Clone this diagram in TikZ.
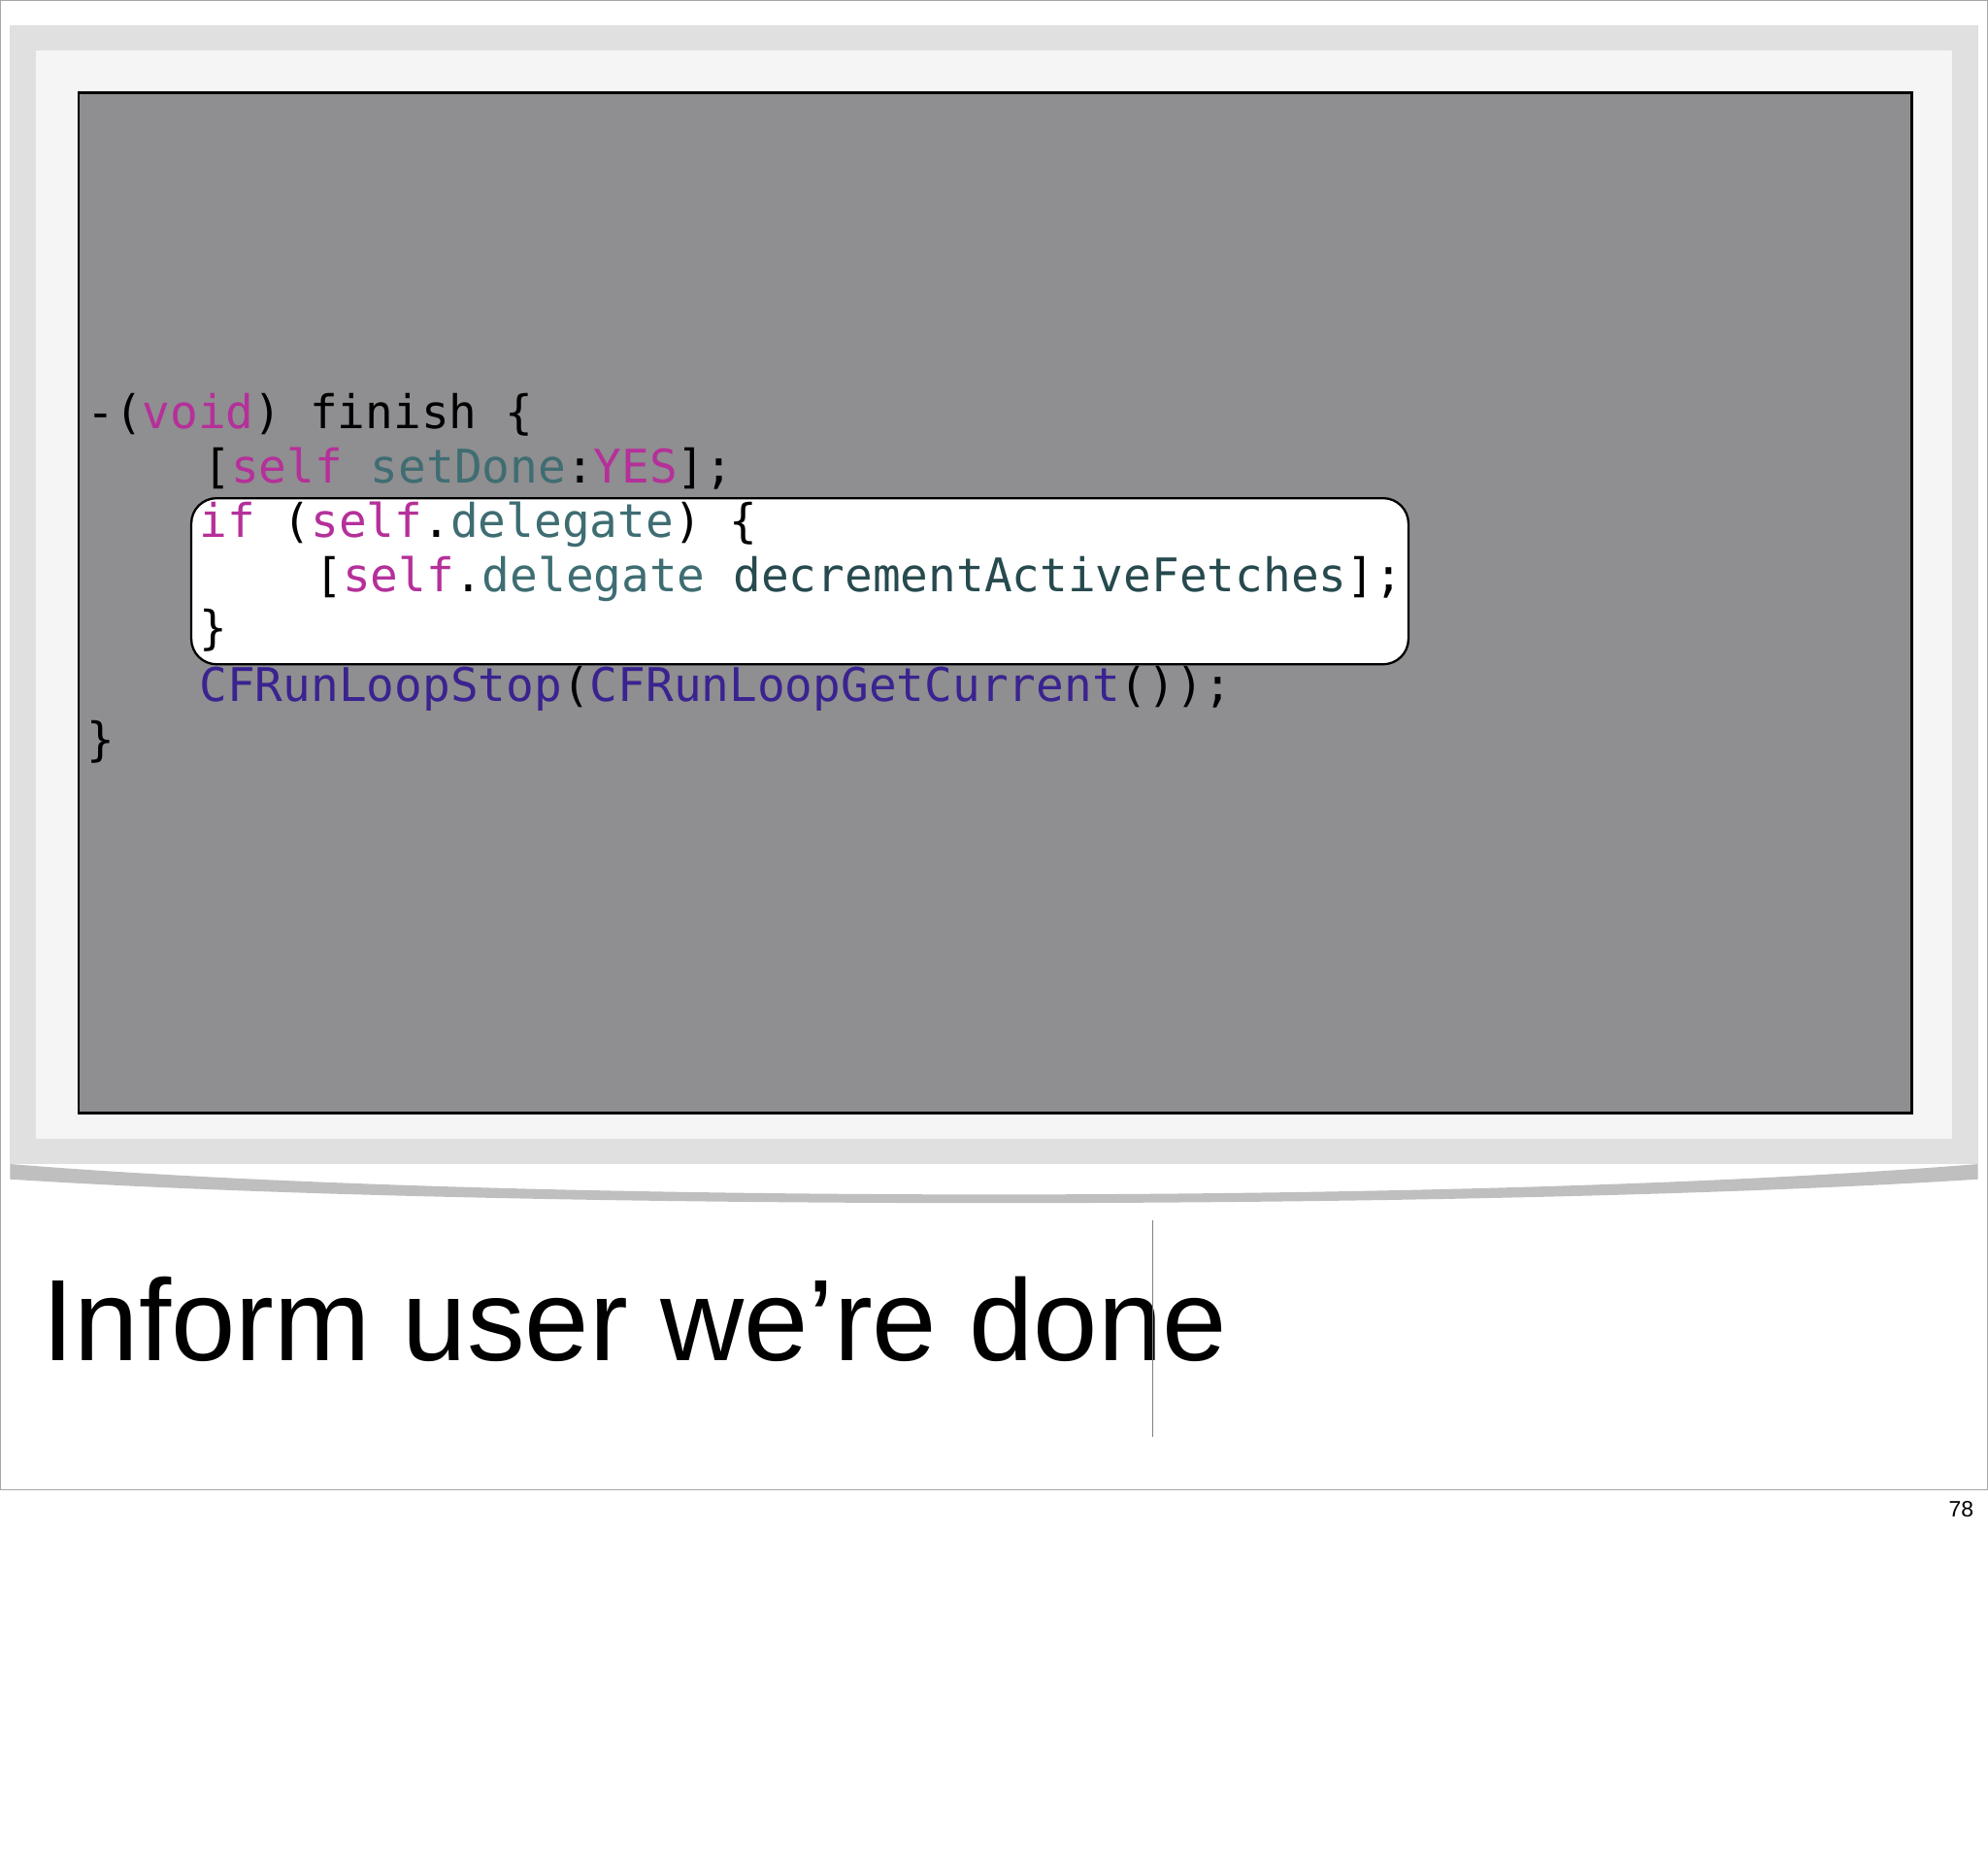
\documentclass[tikz,border=0pt]{standalone}
\usepackage{fontspec}
\setmainfont{Liberation Sans}
\newfontfamily\codefont{DejaVu Sans Mono}
\definecolor{kw}{HTML}{B5309A}
\definecolor{meth}{HTML}{3E6D72}
\definecolor{meth2}{HTML}{264A4E}
\definecolor{fn}{HTML}{3A2390}
\definecolor{boxgray}{HTML}{8F8E90}
\tikzset{code/.style={anchor=base west,inner sep=0pt,font=\codefont\fontsize{20.8}{24}\selectfont}}
\begin{document}
\begin{tikzpicture}[x=0.02cm,y=-0.02cm]
\useasboundingbox (0,0) rectangle (1568,1470);
\fill[white] (0,0) rectangle (1568,1470);
\draw[gray!70,line width=0.6pt] (0,0) rectangle (1568,1175);
\fill[black!25] (8,918) .. controls (400,950) and (1168,950) .. (1560,918) -- (1560,930) .. controls (1168,955) and (400,955) .. (8,930) -- cycle;
\fill[black!12] (8,20) rectangle (1560,918);
\fill[black!4] (28,40) rectangle (1540,898);
\node[draw=black,line width=1.2pt,fill=boxgray,minimum width=1446*0.02cm,minimum height=805*0.02cm,anchor=north west,inner sep=0pt] (box) at (61,72) {};
\node[draw=black,line width=1pt,fill=white,rounded corners=0.4cm,minimum width=960*0.02cm,minimum height=131*0.02cm,anchor=north west,inner sep=0pt] (hl) at (150,392) {};
\node[code] (l1) at (68,338) {-(\textcolor{kw}{void}) finish \{};
\node[code] (l2) at (160,381) {[\textcolor{kw}{self} \textcolor{meth}{setDone}:\textcolor{kw}{YES}];};
\node[code] (l3) at (157,424) {\textcolor{kw}{if} (\textcolor{kw}{self}.\textcolor{meth}{delegate}) \{};
\node[code] (l4) at (248,467) {[\textcolor{kw}{self}.\textcolor{meth}{delegate} \textcolor{meth2}{decrementActiveFetches}];};
\node[code] (l5) at (157,508) {\}};
\node[code] (l6) at (157,553) {\textcolor{fn}{CFRunLoopStop}(\textcolor{fn}{CFRunLoopGetCurrent}());};
\node[code] (l7) at (68,596) {\}};
\node[anchor=base west,inner sep=0pt,font=\fontsize{52}{60}\selectfont] (title) at (33,1073) {Inform user we're done};
\draw[gray,line width=0.6pt] (909,962) -- (909,1133);
\node[anchor=base east,inner sep=0pt,font=\fontsize{10}{12}\selectfont] (pg) at (1557,1196) {78};
\end{tikzpicture}
\end{document}
